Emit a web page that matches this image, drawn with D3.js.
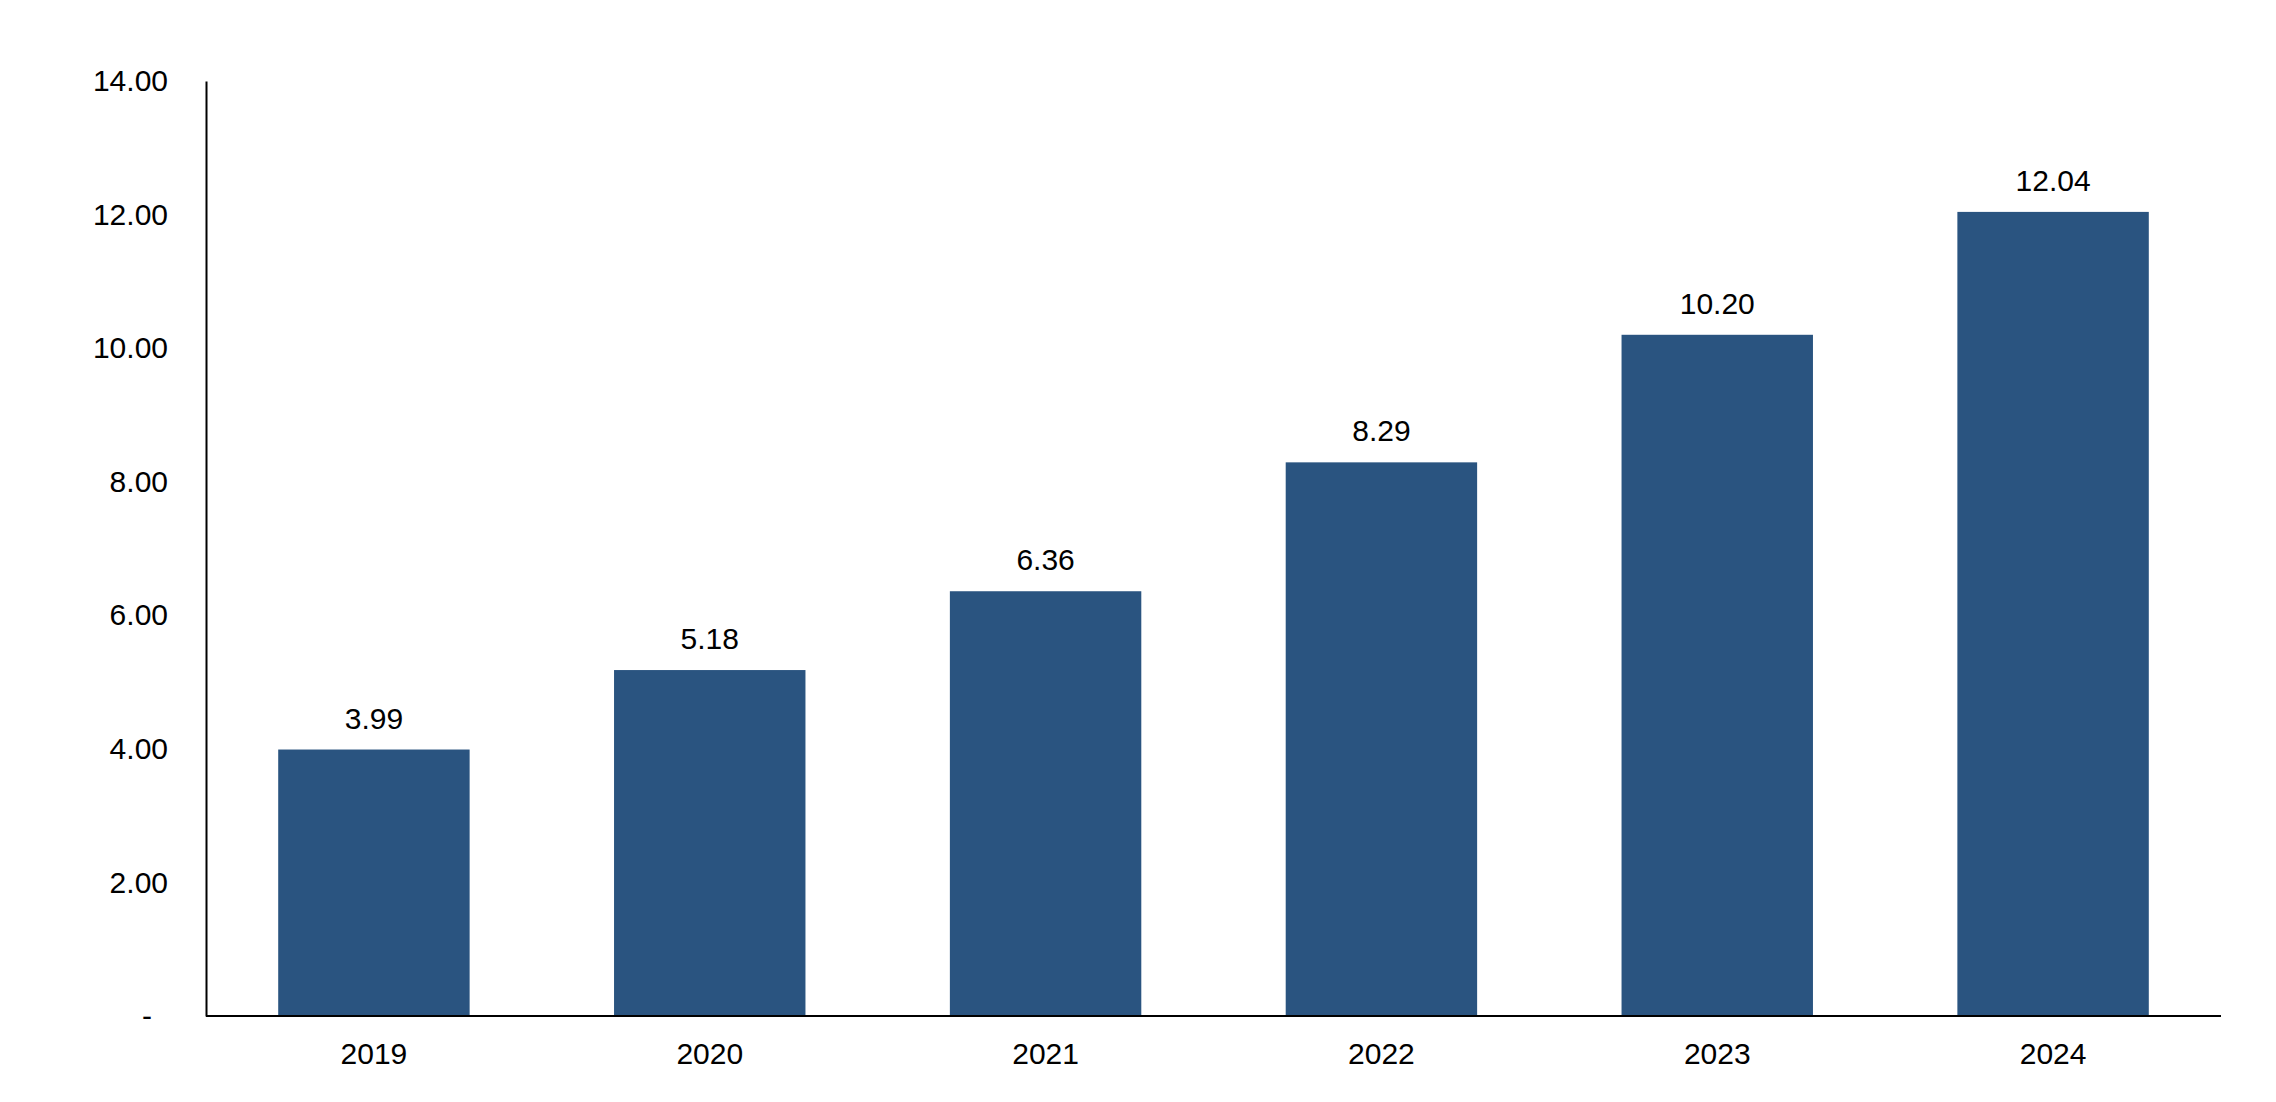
<!DOCTYPE html>
<html>
<head>
<meta charset="utf-8">
<script src="https://cdn.jsdelivr.net/npm/d3@7"></script>
<style>
  html, body { margin: 0; padding: 0; background: #fff; }
  svg { display: block; }
  text { font-family: "Liberation Sans", Arial, sans-serif; fill: #000; }
</style>
</head>
<body>
<svg id="chart" width="2276" height="1102"></svg>
<script>
const categories = ["2019", "2020", "2021", "2022", "2023", "2024"];
const values = [3.99, 5.18, 6.36, 8.29, 10.20, 12.04];
const yTicks = [0, 2, 4, 6, 8, 10, 12, 14];

const W = 2276, H = 1102;
const margin = { left: 206, right: 55, top: 81, bottom: 86 };
const svg = d3.select("#chart");

const x = d3.scaleBand()
  .domain(categories)
  .range([margin.left, W - margin.right])
  .paddingInner(0.43)
  .paddingOuter(0.215);

const y = d3.scaleLinear()
  .domain([0, 14])
  .range([H - margin.bottom, margin.top]);

// bars
svg.append("g").selectAll("rect")
  .data(values)
  .join("rect")
  .attr("x", (d, i) => x(categories[i]))
  .attr("y", d => y(d))
  .attr("width", x.bandwidth())
  .attr("height", d => y(0) - y(d))
  .attr("fill", "#2a5480");

// value labels
svg.append("g").selectAll("text")
  .data(values)
  .join("text")
  .attr("x", (d, i) => x(categories[i]) + x.bandwidth() / 2)
  .attr("y", d => y(d) - 21)
  .attr("text-anchor", "middle")
  .style("font-size", "30px")
  .text(d => d.toFixed(2));

// y axis
const yAxis = svg.append("g")
  .attr("transform", `translate(${margin.left},0)`)
  .call(d3.axisLeft(y).tickValues(yTicks).tickSize(0).tickPadding(38)
    .tickFormat(d => d === 0 ? "-" : d3.format(".2f")(d)));
yAxis.select(".domain").attr("stroke", "#000").attr("stroke-width", 2);
yAxis.selectAll(".tick text")
  .style("font-size", "30px")
  .attr("fill", "#000")
  .attr("dx", d => d === 0 ? "-16px" : 0);

// x axis
const xAxis = svg.append("g")
  .attr("transform", `translate(0,${y(0)})`)
  .call(d3.axisBottom(x).tickSize(0).tickPadding(27));
xAxis.select(".domain").attr("stroke", "#000").attr("stroke-width", 2)
  .attr("d", `M${margin.left},0H${W - margin.right}`);
xAxis.selectAll(".tick text")
  .style("font-size", "30px")
  .attr("fill", "#000");
</script>
</body>
</html>
